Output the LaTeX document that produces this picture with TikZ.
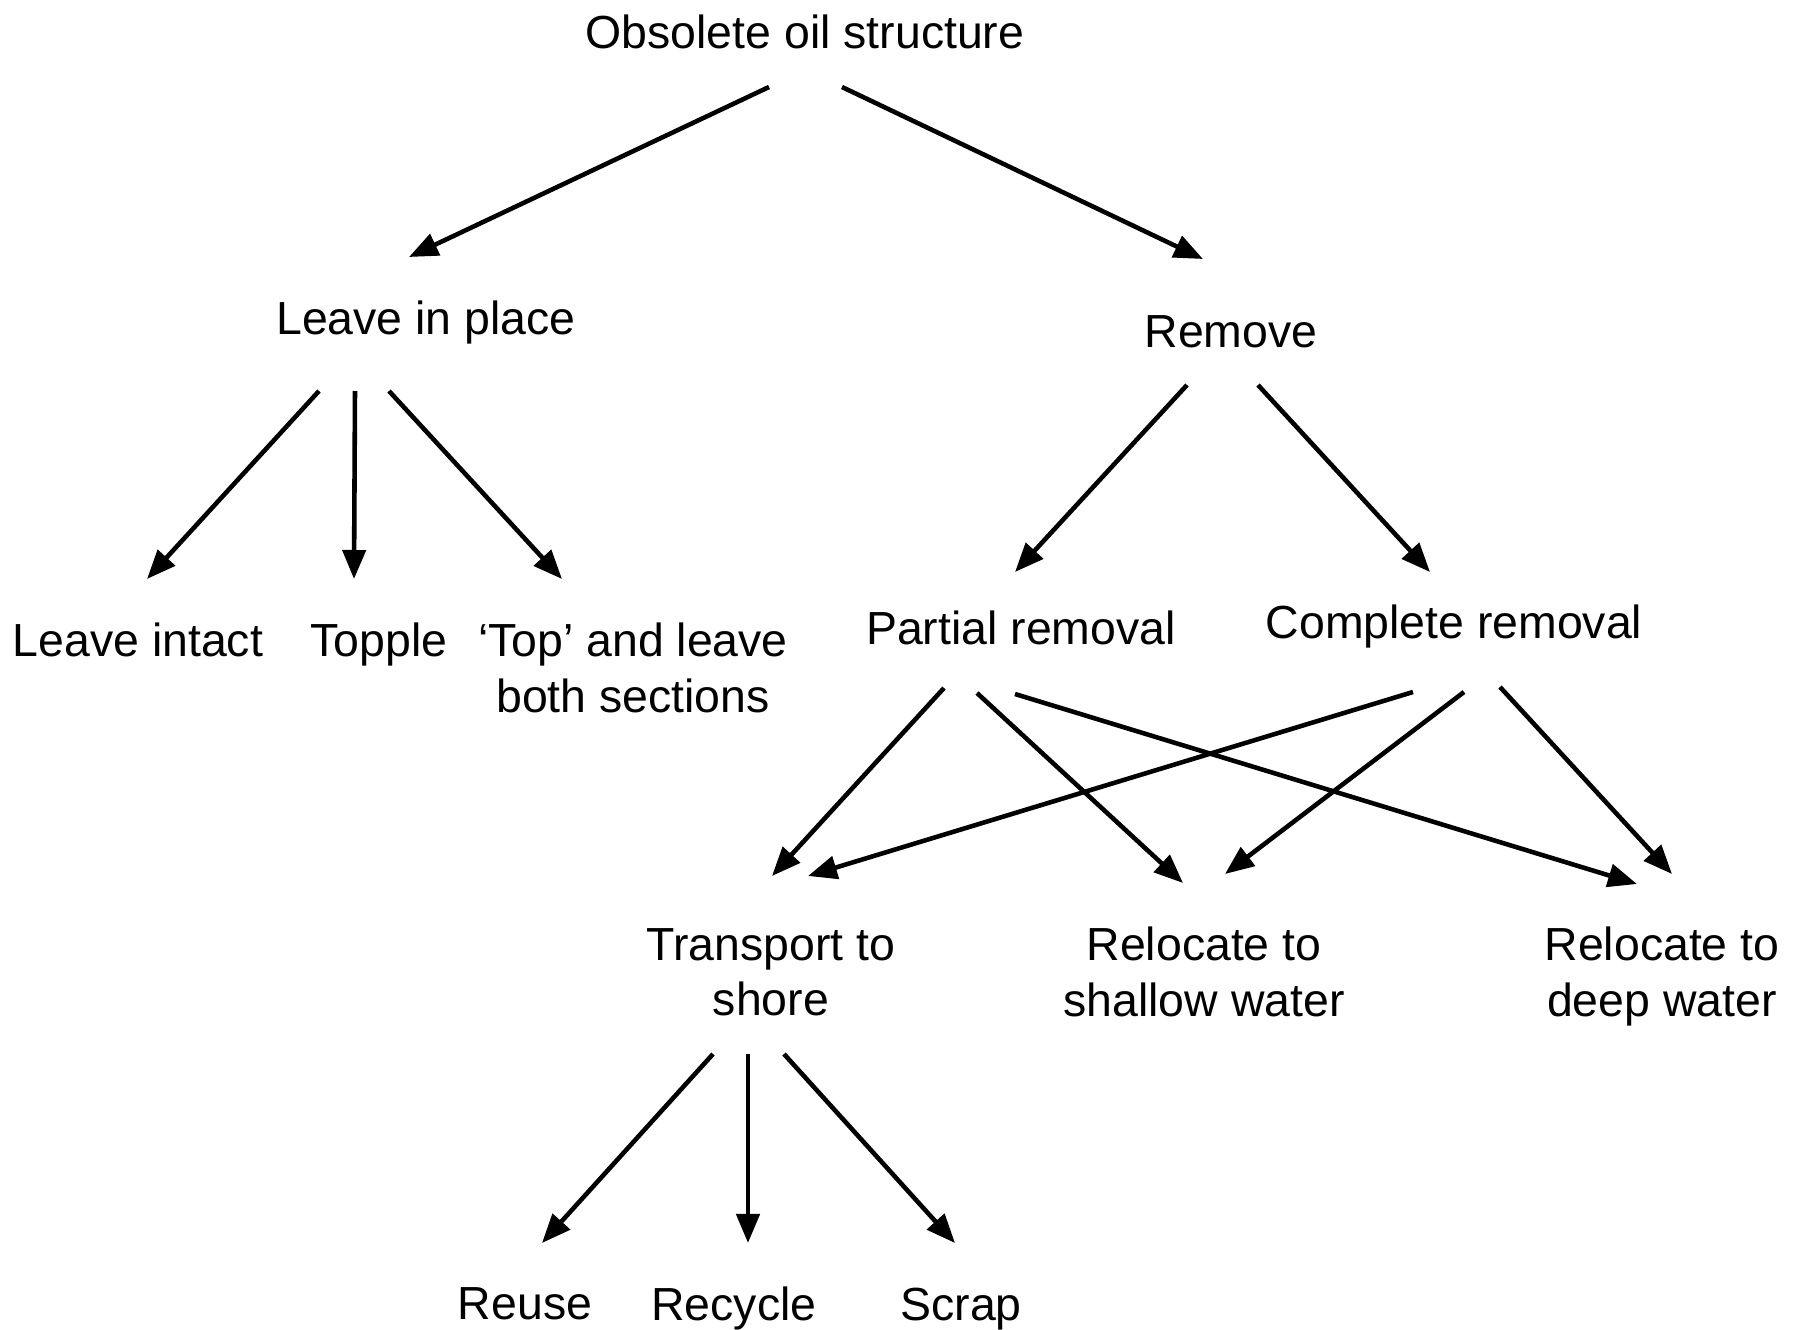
\documentclass[tikz,border=0pt]{standalone}
\usepackage{fontspec}
\setmainfont{Liberation Sans}
\usepackage{tikz}
\usetikzlibrary{calc,arrows.meta}

\begin{document}
\begin{tikzpicture}[x=0.01cm, y=-0.01cm,
    lbl/.style={inner sep=0pt, text depth=0pt, align=center, font=\fontsize{13.2}{15.9}\selectfont},
    arr/.style={-{Triangle[length=0.29cm, width=0.23cm]}, line width=1.3pt}]
    \useasboundingbox (0,0) rectangle (1805,1330);

    % Top level
    \node[lbl] (obs) at (805, 32) {Obsolete oil structure};
    \node[lbl] (leave) at (426, 318) {Leave in place};
    \node[lbl] (remove) at (1231, 332) {Remove};

    % Leave in place options
    \node[lbl] (intact) at (138, 640) {Leave intact};
    \node[lbl] (topple) at (379, 640) {Topple};
    \node[lbl] (topleave) at (633, 668) {`Top' and leave\\both sections};

    % Remove options
    \node[lbl] (partial) at (1021, 628) {Partial removal};
    \node[lbl] (complete) at (1454, 622) {Complete removal};

    \node[lbl] (shore) at (771, 972) {Transport to\\shore};
    \node[lbl] (shallow) at (1204, 972) {Relocate to\\shallow water};
    \node[lbl] (deep) at (1662, 972) {Relocate to\\deep water};

    % Onshore
    \node[lbl] (reuse) at (525, 1304) {Reuse};
    \node[lbl] (recycle) at (734, 1304) {Recycle};
    \node[lbl] (scrap) at (961, 1304) {Scrap};

    % Arrows
    \draw[arr] ($(obs)+(-36,55)$) -- ($(leave)+(-17,-61)$);
    \draw[arr] ($(obs)+(37,55)$) -- ($(remove)+(-28,-73)$);

    \draw[arr] ($(leave)+(-107,73)$) -- ($(intact)+(9,-61)$);
    \draw[arr] ($(leave)+(-71,73)$) -- ($(topple)+(-25,-61)$);
    \draw[arr] ($(leave)+(-37,73)$) -- ($(topleave)+(-71,-89)$);

    \draw[arr] ($(remove)+(-44,53)$) -- ($(partial)+(-6,-56)$);
    \draw[arr] ($(remove)+(27,53)$) -- ($(complete)+(-24,-50)$);

    \draw[arr] ($(partial)+(-77,60)$) -- ($(shore)+(1,-96)$);
    \draw[arr] ($(partial)+(-44,65)$) -- ($(shallow)+(-21,-89)$);
    \draw[arr] ($(partial)+(-6,66)$) -- ($(deep)+(-25,-88)$);

    \draw[arr] ($(complete)+(-41,70)$) -- ($(shore)+(37,-96)$);
    \draw[arr] ($(complete)+(10,70)$) -- ($(shallow)+(21,-98)$);
    \draw[arr] ($(complete)+(46,65)$) -- ($(deep)+(10,-98)$);

    \draw[arr] ($(shore)+(-58,82)$) -- ($(reuse)+(17,-61)$);
    \draw[arr] ($(shore)+(-23,82)$) -- ($(recycle)+(14,-61)$);
    \draw[arr] ($(shore)+(13,82)$) -- ($(scrap)+(-6,-61)$);
\end{tikzpicture}
\end{document}
